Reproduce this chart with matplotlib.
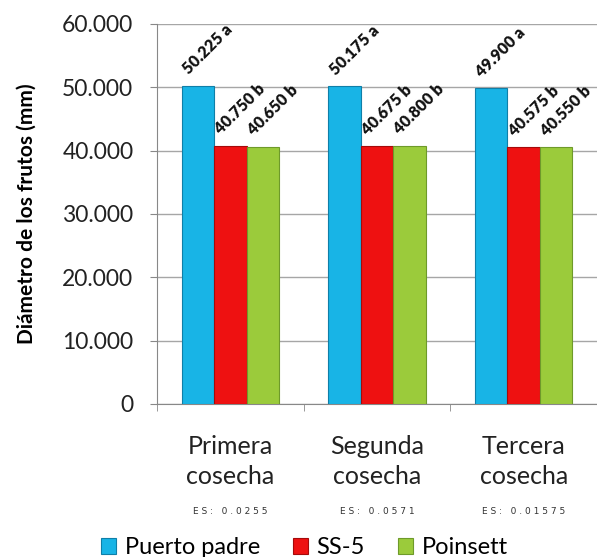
import numpy as np
from matplotlib import pyplot as plt
from matplotlib.ticker import FuncFormatter

plt.rcParams['font.family'] = ['Lato', 'DejaVu Sans']

cosechas = ["Primera\ncosecha", "Segunda\ncosecha", "Tercera\ncosecha"]
es_labels = ["ES: 0.0255", "ES: 0.0571", "ES: 0.01575"]
series = ["Puerto padre", "SS-5", "Poinsett"]
puerto_padre = [50.225, 50.175, 49.900]
ss5 = [40.750, 40.675, 40.575]
poinsett = [40.650, 40.800, 40.550]
letras = [["a", "a", "a"], ["b", "b", "b"], ["b", "b", "b"]]

colores = ["#18B4E6", "#EE1111", "#9BCB3B"]
bordes = ["#0F7FA8", "#A50A0A", "#6E9A2A"]

fig = plt.figure(figsize=(5.97, 5.57), dpi=100)
ax = fig.add_axes([157/597, 153/557, 1 - 157/597, 380/557])

x = np.arange(len(cosechas))
w = 0.221
valores = [puerto_padre, ss5, poinsett]
for i, (vals, c, b, nombre) in enumerate(zip(valores, colores, bordes, series)):
    pos = x + (i - 1) * w
    ax.bar(pos, vals, w, color=c, edgecolor=b, linewidth=0.8, label=nombre, zorder=3)
    for px, v, l in zip(pos, vals, letras[i]):
        ax.annotate("%.3f %s" % (v, l), (px, v), xytext=(-5, 6), textcoords="offset points",
                    rotation=45, rotation_mode="anchor", ha="left", va="bottom",
                    fontsize=11.5, fontweight="heavy", color="#111111")

ax.set_ylim(0, 60)
ax.set_xlim(-0.5, 2.5 - 4/148)
ax.set_yticks(np.arange(0, 61, 10))
ax.yaxis.set_major_formatter(FuncFormatter(lambda v, p: "0" if v == 0 else "%d.000" % int(v)))
ax.grid(axis="y", color="#A6A6A6", linewidth=1, zorder=0)
ax.set_xticks(x)
ax.set_xticklabels(cosechas, fontsize=18, color="#222222", linespacing=1.4)
ax.set_xticks([-0.5, 0.5, 1.5, 2.5], minor=True)
ax.tick_params(axis="x", which="major", length=0, pad=22)
ax.tick_params(axis="x", which="minor", length=5, color="#888888")
ax.tick_params(axis="y", labelsize=16.5, labelcolor="#222222", length=5, color="#888888", pad=12)
for s in ["top", "right"]:
    ax.spines[s].set_visible(False)
for s in ["left", "bottom"]:
    ax.spines[s].set_color("#888888")
ax.set_ylabel("Diámetro de los frutos (mm)", fontsize=15, fontweight="bold", labelpad=18)

for xi, t in zip(x, es_labels):
    ax.text(xi, -16.9, " ".join(t), ha="center", va="center", fontsize=6.5,
            family="DejaVu Sans", color="#333333")

fig.legend(loc="lower center", bbox_to_anchor=(0.51, -0.04), ncol=3, frameon=False,
           fontsize=17, handlelength=0.65, handleheight=0.65, handletextpad=0.35, columnspacing=1.4)

fig.savefig("out.png", dpi=100)
